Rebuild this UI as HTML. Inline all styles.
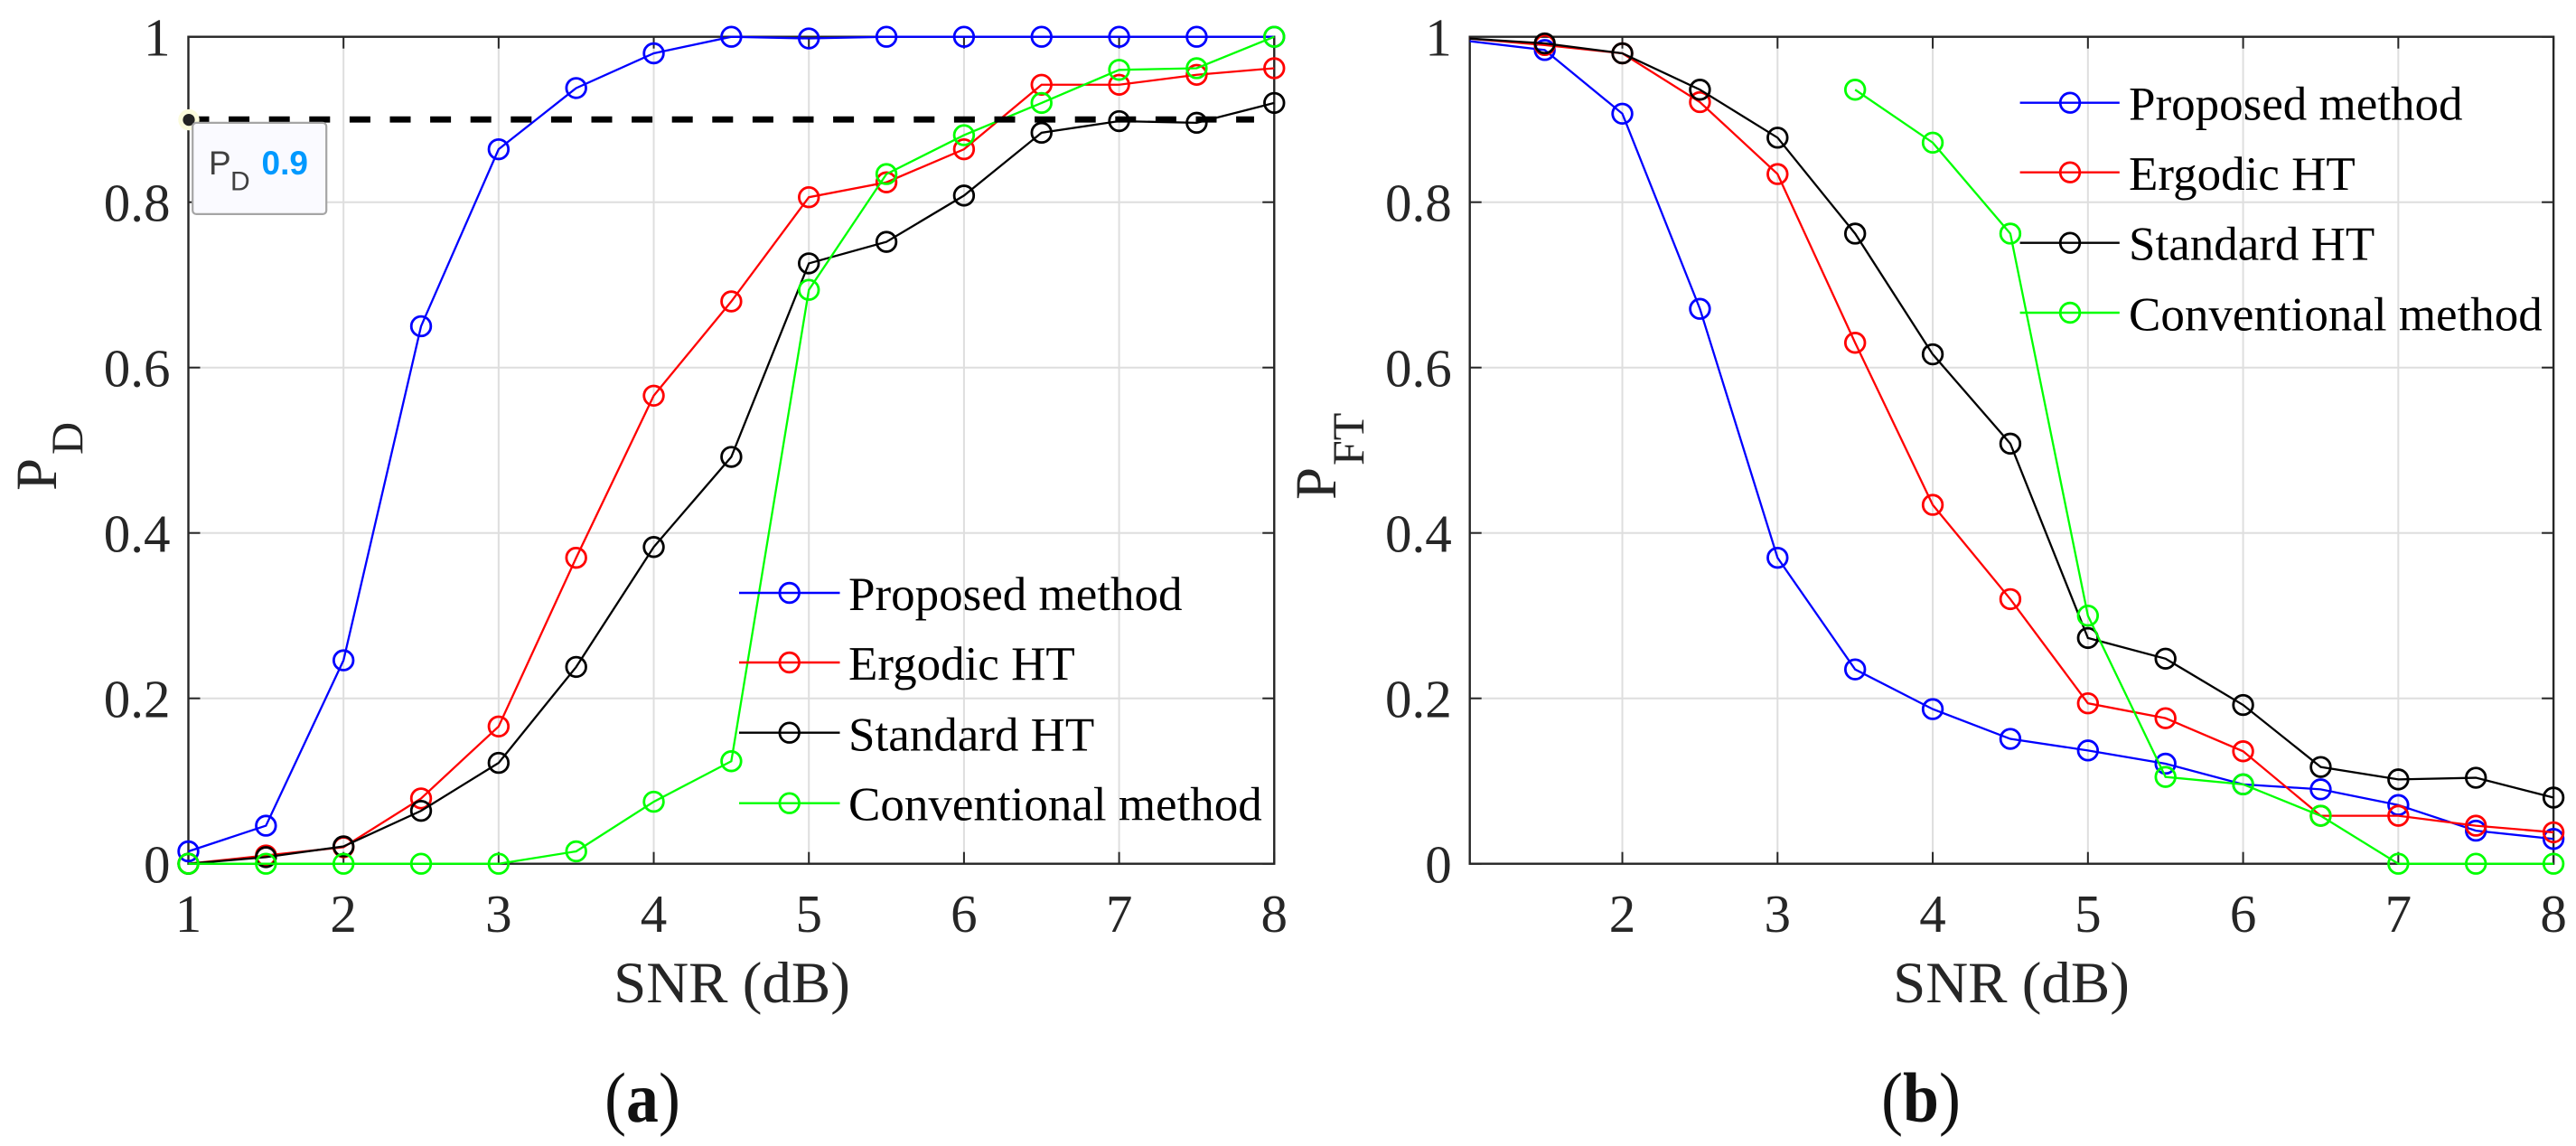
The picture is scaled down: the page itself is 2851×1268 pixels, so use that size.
<!DOCTYPE html>
<html lang="en">
<head>
<meta charset="utf-8">
<title>Detection and false-track probability versus SNR</title>
<style>
html,body{margin:0;padding:0;background:#fff;}
body{width:2851px;height:1268px;overflow:hidden;}
svg{display:block;}
text{font-family:"Liberation Serif",serif;}
.tick{font-size:59px;fill:#262626;}
.axis-title{font-size:65px;fill:#262626;}
.leg{font-size:53px;fill:#000;}
.cap{font-size:78px;fill:#111;}
</style>
</head>
<body>
<svg id="figure" xmlns="http://www.w3.org/2000/svg" width="2851" height="1268" viewBox="0 0 2851 1268">
  <rect x="0" y="0" width="2851" height="1268" fill="#fff"/>
  <g id="panel-a"></g>
  <g id="panel-b"></g>

  <g>
    <g>
      <line x1="818" x2="929.5" y1="656" y2="656" stroke="#0000ff" stroke-width="2.4"/><circle cx="873.7" cy="656" r="10.8" fill="none" stroke="#0000ff" stroke-width="2.8"/>
      <text class="leg" x="939" y="675">Proposed method</text>
    </g>
    <g>
      <line x1="818" x2="929.5" y1="733" y2="733" stroke="#ff0000" stroke-width="2.4"/><circle cx="873.7" cy="733" r="10.8" fill="none" stroke="#ff0000" stroke-width="2.8"/>
      <text class="leg" x="939" y="752">Ergodic HT</text>
    </g>
    <g>
      <line x1="818" x2="929.5" y1="810.7" y2="810.7" stroke="#000" stroke-width="2.4"/><circle cx="873.7" cy="810.7" r="10.8" fill="none" stroke="#000" stroke-width="2.8"/>
      <text class="leg" x="939" y="830.5">Standard HT</text>
    </g>
    <g>
      <line x1="818" x2="929.5" y1="888.7" y2="888.7" stroke="#00ff00" stroke-width="2.4"/><circle cx="873.7" cy="888.7" r="10.8" fill="none" stroke="#00ff00" stroke-width="2.8"/>
      <text class="leg" x="939" y="907.5">Conventional method</text>
    </g>
  </g>

  <g>
    <g>
      <line x1="2235.6" x2="2345.8" y1="113.7" y2="113.7" stroke="#0000ff" stroke-width="2.4"/><circle cx="2291" cy="113.7" r="10.8" fill="none" stroke="#0000ff" stroke-width="2.8"/>
      <text class="leg" x="2356" y="132.7">Proposed method</text>
    </g>
    <g>
      <line x1="2235.6" x2="2345.8" y1="190.7" y2="190.7" stroke="#ff0000" stroke-width="2.4"/><circle cx="2291" cy="190.7" r="10.8" fill="none" stroke="#ff0000" stroke-width="2.8"/>
      <text class="leg" x="2356" y="210">Ergodic HT</text>
    </g>
    <g>
      <line x1="2235.6" x2="2345.8" y1="268.7" y2="268.7" stroke="#000" stroke-width="2.4"/><circle cx="2291" cy="268.7" r="10.8" fill="none" stroke="#000" stroke-width="2.8"/>
      <text class="leg" x="2356" y="287.5">Standard HT</text>
    </g>
    <g>
      <line x1="2235.6" x2="2345.8" y1="346" y2="346" stroke="#00ff00" stroke-width="2.4"/><circle cx="2291" cy="346" r="10.8" fill="none" stroke="#00ff00" stroke-width="2.8"/>
      <text class="leg" x="2356" y="365.5">Conventional method</text>
    </g>
  </g>

  <text class="axis-title" transform="translate(62,543) rotate(-90)">P</text>
  <text class="axis-title" style="font-size:50px" transform="translate(91,503) rotate(-90)">D</text>
  <text class="axis-title" transform="translate(1478,553) rotate(-90)">P</text>
  <text class="axis-title" style="font-size:50px" transform="translate(1509,515) rotate(-90)">FT</text>

  <text class="axis-title" x="810" y="1109" text-anchor="middle">SNR (dB)</text>
  <text class="axis-title" x="2226" y="1109" text-anchor="middle">SNR (dB)</text>

  <text class="cap" transform="translate(711,1241) scale(0.92,1)" text-anchor="middle">(<tspan font-weight="bold">a</tspan>)</text>
  <text class="cap" transform="translate(2126,1241) scale(0.92,1)" text-anchor="middle">(<tspan font-weight="bold">b</tspan>)</text>
</svg>

<script>
// Shared categories and tick labels
var snrValues = [1, 1.5, 2, 2.5, 3, 3.5, 4, 4.5, 5, 5.5, 6, 6.5, 7, 7.5, 8];
var yTicks = [0, 0.2, 0.4, 0.6, 0.8, 1];
var yTickLabels = ['0', '0.2', '0.4', '0.6', '0.8', '1'];
var xTicksA = [1, 2, 3, 4, 5, 6, 7, 8];
var xTicksB = [2, 3, 4, 5, 6, 7, 8];

// Panel (a): detection probability
var pdProposed = [0.015, 0.046, 0.246, 0.65, 0.864, 0.938, 0.98, 1, 0.998, 1, 1, 1, 1, 1, 1];
var pdErgodic = [0, 0.01, 0.02, 0.079, 0.166, 0.37, 0.566, 0.68, 0.806, 0.824, 0.864, 0.942, 0.942, 0.954, 0.962];
var pdStandard = [0, 0.008, 0.021, 0.064, 0.122, 0.238, 0.383, 0.492, 0.726, 0.752, 0.808, 0.884, 0.898, 0.896, 0.92];
var pdConventional = [0, 0, 0, 0, 0, 0.015, 0.075, 0.124, 0.694, 0.834, 0.881, 0.92, 0.96, 0.962, 1];
var pdThreshold = 0.9;
var tipLabelValue = '0.9';

// Panel (b): false-track probability
var pftProposed = [0.995, 0.984, 0.907, 0.671, 0.37, 0.235, 0.187, 0.151, 0.137, 0.121, 0.096, 0.09, 0.071, 0.04, 0.03];
var pftErgodic = [0.998, 0.99, 0.98, 0.921, 0.834, 0.63, 0.434, 0.32, 0.194, 0.176, 0.136, 0.058, 0.058, 0.046, 0.038];
var pftStandard = [0.998, 0.992, 0.98, 0.936, 0.878, 0.762, 0.616, 0.508, 0.273, 0.248, 0.192, 0.117, 0.102, 0.104, 0.08];
var pftConventional = [null, null, null, null, null, 0.936, 0.872, 0.762, 0.3, 0.105, 0.096, 0.058, 0, 0, 0];

var NS = 'http://www.w3.org/2000/svg';
var TOP = 40.7, BOTTOM = 955.7;

function yScale(v) { return BOTTOM - (BOTTOM - TOP) * v; }
function xScaleA(v) { return 208.5 + (v - 1) * 171.68; }
function xScaleB(v) { return 1967.3 + (v - 3) * 171.76; }

function make(parent, tag) {
  var el = document.createElementNS(NS, tag);
  parent.appendChild(el);
  return el;
}

function setLine(el, x1, y1, x2, y2, color, width) {
  el.setAttribute('x1', x1);
  el.setAttribute('y1', y1);
  el.setAttribute('x2', x2);
  el.setAttribute('y2', y2);
  el.setAttribute('stroke', color);
  el.setAttribute('stroke-width', width);
}

function drawAxes(g, xs, xTicks, xMinPx, xMaxPx) {
  xTicks.forEach(function (t) {
    var x = xs(t);
    if (x > xMinPx + 1 && x < xMaxPx - 1) {
      var gv = make(g, 'line');
      
      
      setLine(gv, x, TOP, x, BOTTOM, '#dedede', 2);
    }
  });
  yTicks.forEach(function (t) {
    if (t > 0 && t < 1) {
      var gh = make(g, 'line');
      
      
      setLine(gh, xMinPx, yScale(t), xMaxPx, yScale(t), '#dedede', 2);
    }
  });
  var box = make(g, 'rect');
  
  
  box.setAttribute('x', xMinPx);
  box.setAttribute('y', TOP);
  box.setAttribute('width', xMaxPx - xMinPx);
  box.setAttribute('height', BOTTOM - TOP);
  box.setAttribute('fill', 'none');
  box.setAttribute('stroke', '#262626');
  box.setAttribute('stroke-width', '2.4');

  xTicks.forEach(function (t) {
    var x = xs(t);
    var bottomTick = make(g, 'line');
    
    
    setLine(bottomTick, x, BOTTOM, x, BOTTOM - 13, '#262626', 2);
    var topTick = make(g, 'line');
    
    
    setLine(topTick, x, TOP, x, TOP + 13, '#262626', 2);
    var label = make(g, 'text');
    
    
    label.setAttribute('class', 'tick');
    label.setAttribute('x', x);
    label.setAttribute('y', 1031);
    label.setAttribute('text-anchor', 'middle');
    label.textContent = String(t);
  });

  yTicks.forEach(function (t, i) {
    var y = yScale(t);
    var leftTick = make(g, 'line');
    
    
    setLine(leftTick, xMinPx, y, xMinPx + 13, y, '#262626', 2);
    var rightTick = make(g, 'line');
    
    
    setLine(rightTick, xMaxPx, y, xMaxPx - 13, y, '#262626', 2);
    var label = make(g, 'text');
    
    
    label.setAttribute('class', 'tick');
    label.setAttribute('x', xMinPx - 20);
    label.setAttribute('y', y + 21);
    label.setAttribute('text-anchor', 'end');
    label.textContent = yTickLabels[i];
  });
}

function drawSeries(g, xs, values, color, name, minPx) {
  var s = make(g, 'g');
  
  
  var pts = [];
  values.forEach(function (v, i) {
    if (v !== null) { pts.push(xs(snrValues[i]) + ',' + yScale(v)); }
  });
  var line = make(s, 'polyline');
  
  
  line.setAttribute('points', pts.join(' '));
  line.setAttribute('fill', 'none');
  line.setAttribute('stroke', color);
  line.setAttribute('stroke-width', '2.3');
  if (minPx !== undefined) { line.setAttribute('clip-path', 'url(#clip-b)'); }
  values.forEach(function (v, i) {
    if (v === null) { return; }
    if (minPx !== undefined && xs(snrValues[i]) < minPx) { return; }
    var m = make(s, 'circle');
    
    
    m.setAttribute('cx', xs(snrValues[i]));
    m.setAttribute('cy', yScale(v));
    m.setAttribute('r', '10.8');
    m.setAttribute('fill', 'none');
    m.setAttribute('stroke', color);
    m.setAttribute('stroke-width', '2.8');
  });
}

// Panel (a)
var panelA = document.getElementById('panel-a');
drawAxes(panelA, xScaleA, xTicksA, xScaleA(1), xScaleA(8));
drawSeries(panelA, xScaleA, pdProposed, '#0000ff', 'series-a-proposed');
drawSeries(panelA, xScaleA, pdErgodic, '#ff0000', 'series-a-ergodic');
drawSeries(panelA, xScaleA, pdStandard, '#000000', 'series-a-standard');
drawSeries(panelA, xScaleA, pdConventional, '#00ff00', 'series-a-conventional');

var thresholdLine = make(panelA, 'line');


setLine(thresholdLine, xScaleA(1), yScale(pdThreshold), xScaleA(7.87), yScale(pdThreshold), '#000', 6.8);
thresholdLine.setAttribute('stroke-dasharray', '23 21.6');

var tip = make(panelA, 'g');


var tipY = yScale(pdThreshold);
var tipX = xScaleA(1);
var halo = make(tip, 'circle');


halo.setAttribute('cx', tipX + 0.5);
halo.setAttribute('cy', tipY + 0.4);
halo.setAttribute('r', '11.7');
halo.setAttribute('fill', '#fbfbdc');
var dot = make(tip, 'circle');


dot.setAttribute('cx', tipX + 0.5);
dot.setAttribute('cy', tipY + 0.4);
dot.setAttribute('r', '6.6');
dot.setAttribute('fill', '#222');
var tipBox = make(tip, 'rect');


tipBox.setAttribute('x', tipX + 4.7);
tipBox.setAttribute('y', tipY + 3.7);
tipBox.setAttribute('width', '148');
tipBox.setAttribute('height', '101');
tipBox.setAttribute('rx', '4');
tipBox.setAttribute('fill', '#fafaff');
tipBox.setAttribute('stroke', '#a5a5a5');
tipBox.setAttribute('stroke-width', '2.2');
var tipP = make(tip, 'text');


tipP.setAttribute('x', tipX + 22.5);
tipP.setAttribute('y', tipY + 61);
tipP.setAttribute('style', 'font-family:"Liberation Sans",sans-serif;font-size:37px;fill:#404040');
tipP.textContent = 'P';
var tipD = make(tip, 'text');


tipD.setAttribute('x', tipX + 46.5);
tipD.setAttribute('y', tipY + 78.4);
tipD.setAttribute('style', 'font-family:"Liberation Sans",sans-serif;font-size:30px;fill:#404040');
tipD.textContent = 'D';
var tipV = make(tip, 'text');


tipV.setAttribute('x', tipX + 81);
tipV.setAttribute('y', tipY + 61);
tipV.setAttribute('style', 'font-family:"Liberation Sans",sans-serif;font-size:37px;font-weight:bold;fill:#0099ff');
tipV.textContent = tipLabelValue;

// Panel (b): the axis starts just right of SNR 1, so the first points are clipped
var panelB = document.getElementById('panel-b');
var clip = make(panelB, 'clipPath');
clip.setAttribute('id', 'clip-b');
var clipRect = make(clip, 'rect');
clipRect.setAttribute('x', 1626.7);
clipRect.setAttribute('y', 0);
clipRect.setAttribute('width', 1300);
clipRect.setAttribute('height', 1268);
drawAxes(panelB, xScaleB, xTicksB, 1626.7, xScaleB(8));
drawSeries(panelB, xScaleB, pftProposed, '#0000ff', 'series-b-proposed', 1626.7);
drawSeries(panelB, xScaleB, pftErgodic, '#ff0000', 'series-b-ergodic', 1626.7);
drawSeries(panelB, xScaleB, pftStandard, '#000000', 'series-b-standard', 1626.7);
drawSeries(panelB, xScaleB, pftConventional, '#00ff00', 'series-b-conventional', 1626.7);
</script>
</body>
</html>
